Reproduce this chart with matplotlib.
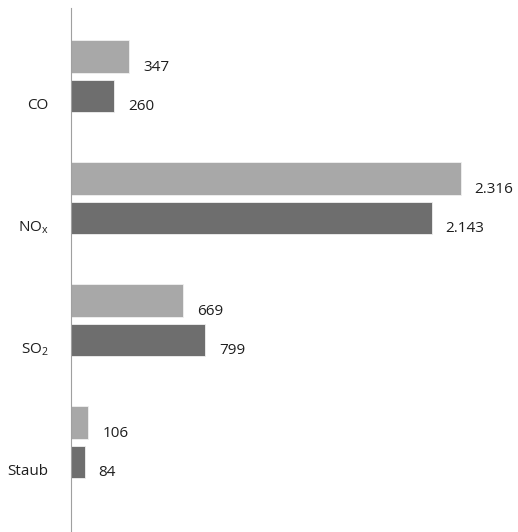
import matplotlib
matplotlib.use("Agg")
import matplotlib.pyplot as plt
import numpy as np

categories = ["CO", r"NO$_\mathregular{x}$", r"SO$_\mathregular{2}$", "Staub"]
series_a = [347, 2316, 669, 106]   # light grey
series_b = [260, 2143, 799, 84]    # dark grey

plt.rcParams['font.family'] = ['Open Sans', 'DejaVu Sans']
plt.rcParams['mathtext.default'] = 'regular'

W, H = 518, 532
fig = plt.figure(figsize=(W / 100, H / 100), dpi=100)
ax_left_px = 70.5
ax_top_px = 8
ax = fig.add_axes([ax_left_px / W, 0, (W - ax_left_px) / W, (H - ax_top_px) / H])

px_per_unit = 0.1685
spacing_px = 122.0
first_center_px = 76.0

ax.set_xlim(0, (W - ax_left_px) / px_per_unit)
ax.set_ylim((H - first_center_px) / spacing_px, (ax_top_px - first_center_px) / spacing_px)

y = np.arange(len(categories))
off = 19.75 / spacing_px
h = 32.5 / spacing_px
light = '#a8a8a8'
dark = '#6e6e6e'
text_color = '#1e1e1e'

ax.barh(y - off, series_a, height=h, color=light, edgecolor='#f0f0f0', linewidth=0.6)
ax.barh(y + off, series_b, height=h, color=dark, edgecolor='#f0f0f0', linewidth=0.6)

def fmt(v):
    return f"{v:,}".replace(",", ".")

for yi, a, b in zip(y, series_a, series_b):
    ax.annotate(fmt(a), xy=(a, yi - off), xytext=(14, -11), textcoords='offset pixels',
                ha='left', va='center', fontsize=11, color=text_color, annotation_clip=False)
    ax.annotate(fmt(b), xy=(b, yi + off), xytext=(14, -11), textcoords='offset pixels',
                ha='left', va='center', fontsize=11, color=text_color, annotation_clip=False)

for yi, cat in zip(y, categories):
    ax.annotate(cat, xy=(0, yi + off), xytext=(-22, -10), textcoords='offset pixels',
                ha='right', va='center', fontsize=11, color=text_color, annotation_clip=False)

for s in ['top', 'right', 'bottom']:
    ax.spines[s].set_visible(False)
ax.spines['left'].set_color('#a0a0a0')
ax.spines['left'].set_linewidth(0.8)
ax.set_xticks([])
ax.set_yticks([])
ax.patch.set_alpha(0)

fig.savefig("out.png", dpi=100)
